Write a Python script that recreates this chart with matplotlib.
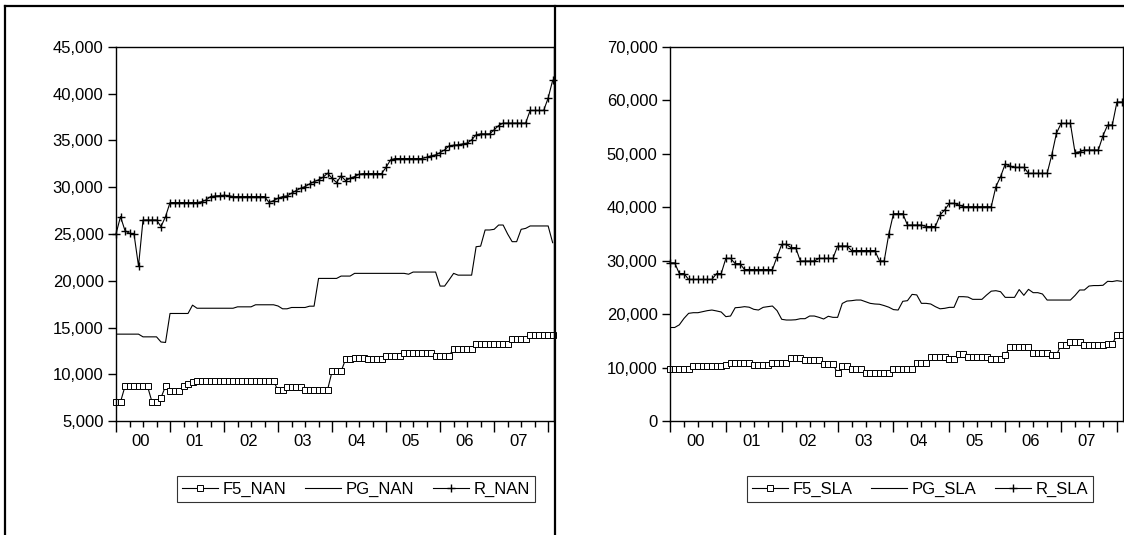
import numpy as np
import matplotlib
matplotlib.use("Agg")
import matplotlib.pyplot as plt
from matplotlib.lines import Line2D
from matplotlib.ticker import FuncFormatter

OUT_FIG = "out.png"

# monthly observations, Jan 2000 .. Feb 2008
year_labels = ["00", "01", "02", "03", "04", "05", "06", "07"]

f5_nan = ([7040] * 2 + [8710] * 6 + [7040] * 2 + [7500, 8710] + [8210] * 3
          + [8710, 9000, 9180] + [9250] * 18 + [8300] * 2 + [8600] * 4
          + [8350] * 6 + [10300] * 3 + [11600] * 2 + [11750] * 3 + [11600] * 4
          + [12000] * 4 + [12300] * 7 + [11960] * 4 + [12750] * 5
          + [13200] * 8 + [13800] * 4 + [14250] * 6)
pg_nan = ([14290] * 6 + [14000] * 4 + [13450, 13400] + [16500] * 5 + [17390]
          + [17060] * 9 + [17210] * 4 + [17430] * 5 + [17300] + [17000] * 2
          + [17140] * 4 + [17280] * 2 + [20250] * 5 + [20500] * 3
          + [20790] * 12 + [20700] + [20930] * 6 + [19430] * 2 + [20100, 20790]
          + [20600] * 4 + [23640, 23700, 25430, 25430, 25500, 25960, 25960,
                           25000, 24180, 24180, 25500, 25600]
          + [25860] * 5 + [24070])
r_nan = ([25000, 26860, 25360, 25070, 25000, 21570, 26500, 26500, 26500, 26500,
          25790, 26860] + [28360] * 7 + [28450, 28640, 29000]
         + [29070, 29100, 29140, 29100] + [29000] * 8
         + [28360, 28570, 28820, 29000, 29070, 29360, 29640, 29890, 30070,
            30360, 30600, 30790, 31070, 31500]
         + [30960, 30500, 31210, 30710, 30960, 31140, 31390] + [31460] * 5
         + [32140, 32930] + [33070] * 7
         + [33210, 33360, 33460, 33710, 34000, 34430, 34500, 34540, 34640,
            34710, 35070, 35610] + [35710] * 3 + [36140, 36600] + [36860] * 6
         + [38210] * 4 + [39540, 41430])

f5_sla = ([9670] * 5 + [10290] * 7 + [10540] + [10790] * 5 + [10420] * 4
          + [10790] * 4 + [11730] * 3 + [11420] * 4 + [10670] * 3
          + [8920, 10290, 10290] + [9670] * 3 + [8920] * 6 + [9670] * 5
          + [10790] * 3 + [11920] * 4 + [11540] * 2 + [12540] * 2
          + [12000] * 5 + [11540] * 3 + [12350] + [13790] * 5 + [12700] * 4
          + [12350] * 2 + [14220] * 2 + [14800] * 3 + [14220] * 5
          + [14480] * 2 + [16050] * 2)
pg_sla = [17500, 17500, 18000, 19200, 20150, 20270, 20270, 20460, 20650, 20770,
          20600, 20400, 19530, 19650, 21200, 21270, 21400, 21300, 20900, 20770,
          21270, 21400, 21520, 20650, 19030, 18900, 18900, 18950, 19150, 19150,
          19650, 19650, 19400, 19090, 19600, 19400, 19400, 22000, 22450, 22520,
          22640, 22640, 22330, 22020, 21900, 21850, 21600, 21300, 20850, 20770,
          22400, 22520, 23700, 23600, 22020, 22020, 21900, 21400, 21000, 21090,
          21270, 21270, 23270, 23270, 23200, 22770, 22770, 22770, 23580, 24300,
          24390, 24200, 23140, 23140, 23140, 24600, 23520, 24640, 24020, 24020,
          23770, 22640, 22640, 22640, 22640, 22640, 22640, 23500, 24520, 24520,
          25260, 25350, 25350, 25400, 26140, 26100, 26260, 26140]
r_sla = ([29600, 29600, 27600, 27600] + [26500] * 6 + [27600] * 2
         + [30440] * 2 + [29450] * 2 + [28350] * 7 + [30750] + [33060] * 2
         + [32440] * 2 + [29940] * 4 + [30440] * 4 + [32750] * 3
         + [31900] * 6 + [29940] * 2 + [35000] + [38800] * 3 + [36680] * 4
         + [36400] * 3 + [38550, 39490, 40740, 40740, 40420] + [40110] * 7
         + [43860, 45730, 48100, 47720] + [47470] * 3 + [46350] * 5
         + [49780, 53840] + [55700] * 3 + [50220, 50400] + [50720] * 4
         + [53400, 55400, 55400, 59700, 59700])

panels = [
    (f5_nan, pg_nan, r_nan, ["F5_NAN", "PG_NAN", "R_NAN"], (5000, 45000, 5000)),
    (f5_sla, pg_sla, r_sla, ["F5_SLA", "PG_SLA", "R_SLA"], (0, 70000, 10000)),
]

W, H = 1124, 535
plt.rcParams["font.family"] = ["Liberation Sans", "DejaVu Sans"]


def fig_rect(x0, y0, x1, y1):
    return [x0 / W, 1 - y1 / H, (x1 - x0) / W, (y1 - y0) / H]


def main():
    fig = plt.figure(figsize=(W / 100, H / 100), dpi=100)

    # outer frame and divider of the two graphs
    for xs, ys in [([5, W], [6, 6]), ([5, 5], [6, H]), ([555, 555], [6, H])]:
        fig.add_artist(Line2D([x / W for x in xs], [1 - y / H for y in ys],
                              color="black", lw=1.6))

    rects = [fig_rect(116, 47, 554, 421), fig_rect(670, 47, 1123, 421)]
    legend_centers = [(356, 489), (920, 489)]

    for (f5, pg, r, names, (y0, y1, ystep)), rect, lc in zip(panels, rects, legend_centers):
        ax = fig.add_axes(rect)
        t = np.arange(len(r))
        ax.plot(t, f5, color="black", lw=0.8, marker="s", ms=3.8,
                mfc="white", mec="black", mew=0.7, label=names[0], clip_on=False)
        ax.plot(t, pg, color="black", lw=0.8, label=names[1])
        ax.plot(t, r, color="black", lw=0.8, marker="+", ms=6, mew=1.0,
                label=names[2], clip_on=False)

        ax.set_xlim(0, 97.3)
        ax.set_ylim(y0, y1)
        ax.set_yticks(np.arange(y0, y1 + 1, ystep))
        ax.yaxis.set_major_formatter(FuncFormatter(lambda v, p: f"{v:,.0f}"))
        ax.set_xticks(np.arange(0, 97, 12))
        ax.set_xticks([m for m in range(0, 98, 3) if m % 12], minor=True)
        ax.set_xticklabels([])
        ax.tick_params(axis="x", which="major", length=8, width=1, direction="out")
        ax.tick_params(axis="x", which="minor", length=4, width=1, direction="out")
        ax.tick_params(axis="y", length=6, width=1, labelsize=12, pad=3)
        for k, lab in enumerate(year_labels):
            ax.text(12 * k + 5.5, -0.055, lab, transform=ax.get_xaxis_transform(),
                    ha="center", va="center", fontsize=12)
        for s in ax.spines.values():
            s.set_linewidth(1.0)

        leg = ax.legend(loc="center", ncol=3, bbox_to_anchor=(lc[0] / W, 1 - lc[1] / H),
                        bbox_transform=fig.transFigure, fontsize=12, numpoints=1,
                        frameon=True, fancybox=False, handlelength=2.15,
                        handletextpad=0.3, columnspacing=1.1, borderpad=0.3)
        leg.get_frame().set_edgecolor("black")
        leg.get_frame().set_linewidth(0.8)

    fig.savefig(OUT_FIG, dpi=100)
    plt.close(fig)


if __name__ == "__main__":
    main()
